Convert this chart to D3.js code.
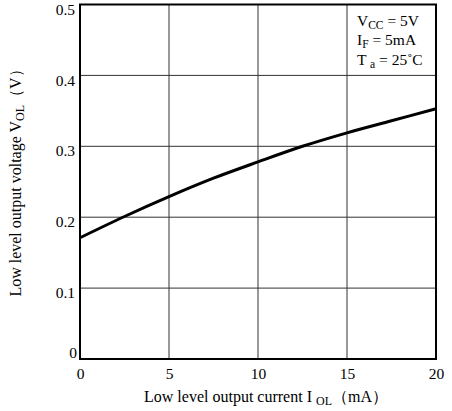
<!DOCTYPE html>
<html>
<head>
<meta charset="utf-8">
<script src="https://cdn.jsdelivr.net/npm/d3@7"></script>
<style>
  html, body { margin: 0; padding: 0; background: #fff; }
  svg { display: block; }
  text { font-family: "Liberation Serif", "Times New Roman", serif; fill: #000; }
</style>
</head>
<body>
<svg id="chart" width="452" height="411"></svg>
<script>
// Low level output current I_OL (mA) vs low level output voltage V_OL (V)
const currentMA = [0, 2.5, 5, 7.5, 10, 12.5, 15, 17.5, 20];
const voltageV  = [0.171, 0.201, 0.229, 0.255, 0.278, 0.300, 0.319, 0.336, 0.353];
const xTicks = [0, 5, 10, 15, 20];
const yTicks = [0, 0.1, 0.2, 0.3, 0.4, 0.5];
const yTickLabels = ["0", "0.1", "0.2", "0.3", "0.4", "0.5"];

const svg = d3.select("#chart");
const m = { left: 80, right: 436, top: 4.5, bottom: 359 };

const x = d3.scaleLinear().domain([0, 20]).range([m.left, m.right]);
const y = d3.scaleLinear().domain([0, 0.5]).range([m.bottom, m.top]);

// grid
const grid = svg.append("g").attr("stroke", "#333").attr("stroke-width", 1);
xTicks.slice(1, -1).forEach(t => {
  grid.append("line").attr("x1", x(t)).attr("x2", x(t)).attr("y1", m.top).attr("y2", m.bottom);
});
yTicks.slice(1, -1).forEach(t => {
  grid.append("line").attr("x1", m.left).attr("x2", m.right).attr("y1", y(t)).attr("y2", y(t));
});

// frame
svg.append("rect")
  .attr("x", m.left).attr("y", m.top)
  .attr("width", m.right - m.left).attr("height", m.bottom - m.top)
  .attr("fill", "none").attr("stroke", "#000").attr("stroke-width", 2);

// x axis labels
const xAxis = d3.axisBottom(x).tickValues(xTicks).tickSize(0).tickPadding(0).tickFormat(d3.format("d"));
const gx = svg.append("g").attr("transform", `translate(0,${m.bottom})`).call(xAxis);
gx.select(".domain").remove();
gx.selectAll("text")
  .attr("y", 20).attr("dy", null)
  .style("font-size", "15.5px")
  .style("font-family", "'Liberation Serif', 'Times New Roman', serif");

// y axis labels
const yAxis = d3.axisLeft(y).tickValues(yTicks).tickSize(0).tickPadding(0)
  .tickFormat((d, i) => yTickLabels[i]);
const gy = svg.append("g").attr("transform", `translate(${m.left},0)`).call(yAxis);
gy.select(".domain").remove();
gy.selectAll("text")
  .attr("x", d => d === 0 ? -3 : -5)
  .attr("dy", d => d === 0 ? "-0.1em" : "0.62em")
  .style("font-size", "15.5px")
  .style("font-family", "'Liberation Serif', 'Times New Roman', serif");

// curve
const line = d3.line()
  .x((d, i) => x(currentMA[i]))
  .y(d => y(d))
  .curve(d3.curveCatmullRom);
svg.append("path")
  .datum(voltageV)
  .attr("d", line)
  .attr("fill", "none")
  .attr("stroke", "#000")
  .attr("stroke-width", 3);

// conditions
const cond = svg.append("g").style("font-size", "15.5px");
function condLine(yy, main, sub, rest) {
  const t = cond.append("text").attr("x", 357).attr("y", yy);
  t.append("tspan").text(main);
  t.append("tspan").attr("dy", 3).style("font-size", "11.5px").text(sub);
  t.append("tspan").attr("dy", -3).text(rest);
}
condLine(25.5, "V", "CC", " = 5V");
condLine(45, "I", "F", " = 5mA");
condLine(64.5, "T ", "a", " = 25˚C");

// x title
const xt = svg.append("text")
  .attr("x", 266).attr("y", 402)
  .attr("text-anchor", "middle")
  .style("font-size", "16px");
xt.append("tspan").text("Low level output current I ");
xt.append("tspan").attr("dy", 3).style("font-size", "12px").text("OL");
xt.append("tspan").attr("dy", -3).text("（mA）");

// y title
const yt = svg.append("text")
  .attr("transform", `translate(21,179) rotate(-90)`)
  .attr("text-anchor", "middle")
  .style("font-size", "16px");
yt.append("tspan").text("Low level output voltage V");
yt.append("tspan").attr("dy", 3).style("font-size", "12px").text("OL");
yt.append("tspan").attr("dy", -3).text("（V）");
</script>
</body>
</html>
